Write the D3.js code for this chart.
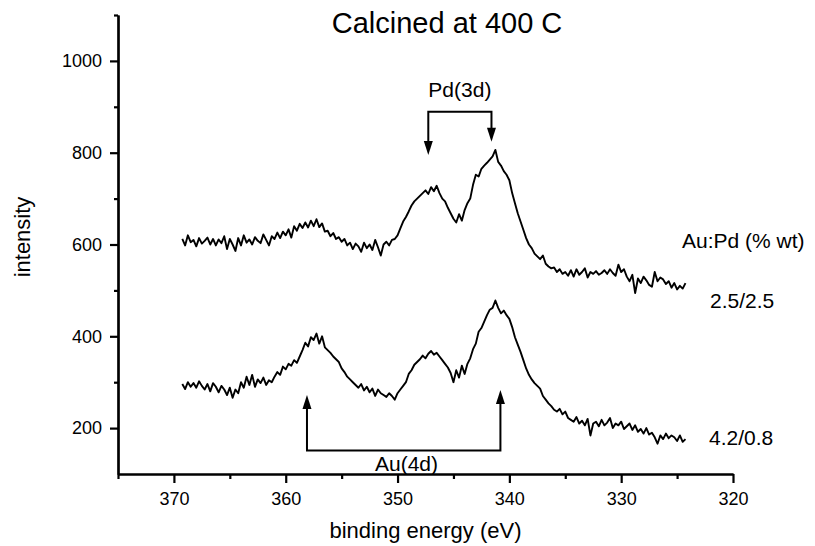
<!DOCTYPE html>
<html>
<head>
<meta charset="utf-8">
<script src="https://cdn.jsdelivr.net/npm/d3@7/dist/d3.min.js"></script>
<style>
  html, body { margin: 0; padding: 0; background: #fff; }
  svg { display: block; font-family: "Liberation Sans", Arial, Helvetica, sans-serif; }
  .curve { fill: none; stroke: #000; stroke-width: 1.9; stroke-linejoin: round; }
  .axis path, .axis line { stroke: #000; stroke-width: 2.2; }
  .axis text { font-size: 18px; fill: #000; }
  .bracket { fill: none; stroke: #000; stroke-width: 2; }
</style>
</head>
<body>
<svg id="chart" width="815" height="546"></svg>
<script>
// ── Data (0.25 eV grid) ────────────────────────────────────────────────────────
const E_START = 369.25;   // first binding energy of both scans
const E_STEP  = 0.25;     // scans go downward in energy

const sampleLabels = ['2.5/2.5', '4.2/0.8'];

// Au:Pd 2.5/2.5 wt%
const intensityTop = [
  612, 598, 620, 605,  610, 596, 614, 602,  608, 615, 600, 612,  598, 611, 603, 618,
  590, 612, 600, 586,  614, 598, 620, 604,  611, 600, 616, 608,  603, 622, 610, 598,
  618, 612, 626, 614,  628, 620, 633, 615,  640, 630, 645, 636,  648, 637, 652, 640,
  655, 638, 646, 628,  630, 618, 625, 612,  616, 606, 612, 598,  604, 590, 602, 596,
  584, 604, 592, 600,  588, 610, 594, 576,  600, 606, 598, 610,  612, 620, 635, 650,
  660, 672, 685, 694,  700, 706, 712, 718,  710, 725, 716, 728,  712, 700, 694, 680,
  668, 656, 648, 666,  652, 675, 690, 700,  730, 752, 748, 765,  772, 778, 785, 792,
  806, 780, 772, 760,  752, 740, 712, 690,  668, 650, 632, 614,  600, 592, 580, 574,
  568, 576, 558, 552,  548, 550, 540, 546,  536, 540, 532, 544,  530, 546, 534, 540,
  548, 528, 540, 536,  542, 534, 538, 544,  536, 546, 538, 532,  556, 540, 546, 530,
  520, 534, 494, 526,  516, 530, 522, 512,  508, 540, 520, 528,  524, 514, 520, 506,
  516, 502, 510, 504,  516
];

// Au:Pd 4.2/0.8 wt%
const intensityBottom = [
  296, 285, 300, 290,  298, 288, 302, 292,  284, 296, 280, 298,  290, 278, 292, 284,
  272, 288, 266, 284,  276, 300, 288, 312,  294, 316, 290, 306,  298, 310, 294, 304,
  300, 312, 322, 316,  334, 328, 340, 336,  348, 342, 356, 370,  386, 378, 398, 392,
  406, 384, 400, 376,  370, 364, 356, 350,  344, 330, 322, 312,  306, 300, 294, 288,
  296, 282, 290, 278,  286, 270, 284, 276,  272, 268, 276, 270,  262, 276, 284, 292,
  300, 318, 326, 338,  344, 350, 358, 352,  362, 368, 360, 364,  356, 348, 340, 332,
  320, 300, 326, 310,  336, 318, 340, 352,  372, 384, 410, 418,  432, 446, 458, 462,
  478, 462, 450, 456,  446, 438, 420, 398,  382, 366, 348, 330,  316, 306, 298, 292,
  286, 270, 262, 254,  248, 240, 236, 242,  230, 236, 222, 218,  214, 224, 210, 216,
  206, 220, 184, 210,  214, 204, 218, 206,  212, 222, 200, 210,  206, 214, 198, 204,
  210, 196, 206, 192,  198, 188, 200, 186,  190, 180, 166, 184,  176, 188, 178, 184,
  180, 172, 184, 170,  176
];

const xTicks      = [370, 360, 350, 340, 330, 320];
const xMinorTicks = [375, 365, 355, 345, 335, 325];
const yTicks      = [200, 400, 600, 800, 1000];
const yMinorTicks = [300, 500, 700, 900, 1100];

// Peak markers: [energy, arrow tip intensity]; bracket level in intensity units
const pdArrows  = [[347.25, 795], [341.6, 824]];
const pdBracket = 889;
const auArrows  = [[358.1, 272], [340.8, 283]];
const auBracket = 151;

// ── Scales ─────────────────────────────────────────────────────────────────────
const x = d3.scaleLinear().domain([375, 320]).range([118, 733]);
const y = d3.scaleLinear().domain([100, 1100]).range([474, 15]);

const svg = d3.select('#chart');

// ── Axes ───────────────────────────────────────────────────────────────────────
svg.append('g').attr('class', 'axis')
  .attr('transform', `translate(0,${y(100)})`)
  .call(d3.axisBottom(x).tickValues(xTicks).tickSize(9).tickSizeOuter(0).tickPadding(9)
    .tickFormat(d3.format('d')));
svg.append('g').attr('class', 'axis')
  .attr('transform', `translate(0,${y(100)})`)
  .call(d3.axisBottom(x).tickValues(xMinorTicks).tickSize(5).tickSizeOuter(0).tickFormat(''));

svg.append('g').attr('class', 'axis')
  .attr('transform', `translate(${x(375)},0)`)
  .call(d3.axisLeft(y).tickValues(yTicks).tickSize(8).tickSizeOuter(0).tickPadding(8)
    .tickFormat(d3.format('d')));
svg.append('g').attr('class', 'axis')
  .attr('transform', `translate(${x(375)},0)`)
  .call(d3.axisLeft(y).tickValues(yMinorTicks).tickSize(4).tickSizeOuter(0).tickFormat(''));

// ── Curves ─────────────────────────────────────────────────────────────────────
const line = d3.line()
  .x((d, i) => x(E_START - i * E_STEP))
  .y(d => y(d));

[intensityTop, intensityBottom].forEach(series => {
  svg.append('path').attr('class', 'curve').attr('d', line(series));
});

// ── Peak brackets with arrows ──────────────────────────────────────────────────
function bracket(arrows, level, dir) {
  // dir = +1 arrows point down, -1 arrows point up
  const yl = y(level);
  const p = d3.path();
  p.moveTo(x(arrows[0][0]), y(arrows[0][1]) - dir * 12);
  p.lineTo(x(arrows[0][0]), yl);
  p.lineTo(x(arrows[1][0]), yl);
  p.lineTo(x(arrows[1][0]), y(arrows[1][1]) - dir * 12);
  svg.append('path').attr('class', 'bracket').attr('d', p.toString());

  arrows.forEach(([e, v]) => {
    const tx = x(e), ty = y(v);
    svg.append('path')
      .attr('d', `M${tx},${ty}L${tx - 4.5},${ty - dir * 14}L${tx + 4.5},${ty - dir * 14}Z`)
      .attr('fill', '#000');
  });
}
bracket(pdArrows, pdBracket, 1);
bracket(auArrows, auBracket, -1);

svg.append('text')
  .attr('x', (x(pdArrows[0][0]) + x(pdArrows[1][0])) / 2)
  .attr('y', y(pdBracket) - 15)
  .attr('text-anchor', 'middle')
  .attr('font-size', 21)
  .text('Pd(3d)');

svg.append('text')
  .attr('x', x(349.2))
  .attr('y', y(auBracket) + 20)
  .attr('text-anchor', 'middle')
  .attr('font-size', 21)
  .text('Au(4d)');

// ── Titles and labels ──────────────────────────────────────────────────────────
svg.append('text')
  .attr('x', 447).attr('y', 33)
  .attr('text-anchor', 'middle')
  .attr('font-size', 29)
  .text('Calcined at 400 C');

svg.append('text')
  .attr('x', x(347.5)).attr('y', 538)
  .attr('text-anchor', 'middle')
  .attr('font-size', 22)
  .text('binding energy (eV)');

svg.append('text')
  .attr('transform', 'translate(30,237) rotate(-90)')
  .attr('text-anchor', 'middle')
  .attr('font-size', 22)
  .text('intensity');

svg.append('text')
  .attr('x', 682).attr('y', 248)
  .attr('font-size', 21)
  .text('Au:Pd (% wt)');

svg.append('text')
  .attr('x', 710).attr('y', 308)
  .attr('font-size', 21)
  .text(sampleLabels[0]);

svg.append('text')
  .attr('x', 709).attr('y', 445)
  .attr('font-size', 21)
  .text(sampleLabels[1]);
</script>
</body>
</html>
